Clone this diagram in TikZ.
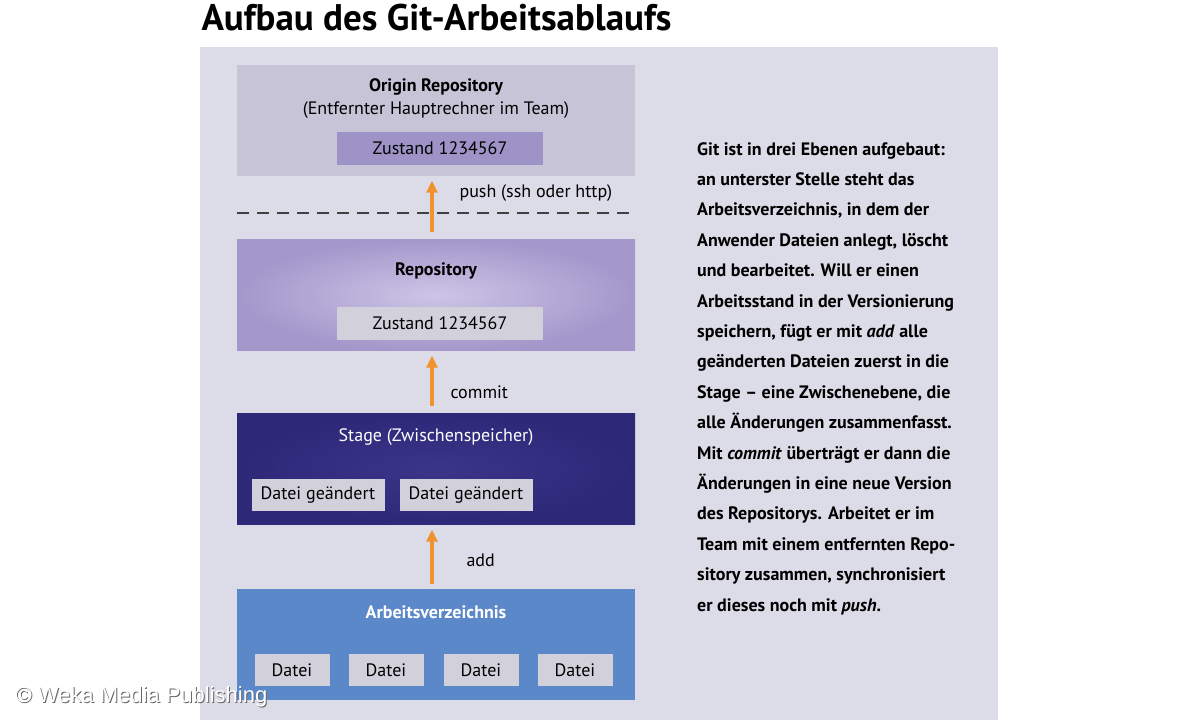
\documentclass[tikz,border=0pt]{standalone}
\usepackage{fontspec}
\setmainfont{PT Sans}
\usetikzlibrary{arrows.meta, positioning}
\definecolor{panelbg}{HTML}{DCDBE8}
\definecolor{origincol}{HTML}{C7C4D8}
\definecolor{zustandcol}{HTML}{9D93C6}
\definecolor{repocol}{HTML}{A497CB}
\definecolor{repolight}{HTML}{CCC5E6}
\definecolor{stagecol}{HTML}{2D2878}
\definecolor{stagelight}{HTML}{3A3588}
\definecolor{workcol}{HTML}{5B88C8}
\definecolor{filecol}{HTML}{D2D1DB}
\definecolor{arrowcol}{HTML}{F0922E}
\begin{document}
\begin{tikzpicture}[x=1pt, y=-1pt,
  level/.style={rectangle, minimum width=398pt, minimum height=111pt, inner sep=0pt},
  zustand/.style={rectangle, minimum width=206pt, minimum height=33pt, inner sep=0pt, font=\fontsize{18}{20}\selectfont},
  file/.style={rectangle, fill=filecol, minimum width=133pt, minimum height=32pt, inner sep=0pt, font=\fontsize{18}{20}\selectfont},
  smallfile/.style={file, minimum width=75pt},
  heading/.style={font=\fontsize{18}{20}\selectfont\bfseries},
  lbl/.style={font=\fontsize{18}{20}\selectfont, anchor=west},
  arrow/.style={-{Triangle[length=12pt, width=11pt]}, line width=3.5pt, arrowcol},
]
\useasboundingbox (0,0) rectangle (1200,720);
\fill[white] (0,0) rectangle (1200,720);

% Title and panel
\node[anchor=west, font=\fontsize{37}{40}\selectfont\bfseries] (title) at (198,18) {Aufbau des Git-Arbeitsablaufs};
\fill[panelbg] (200,47) rectangle (998,720);

% Levels
\node[level, fill=origincol] (origin) at (436,120) {};
\node[heading] (originname) at (436,87) {Origin Repository};
\node[font=\fontsize{18}{20}\selectfont] (originsub) at (436,110) {(Entfernter Hauptrechner im Team)};
\node[zustand, fill=zustandcol] (originstate) at (440,148) {Zustand 1234567};

\node[level, inner color=repolight, outer color=repocol] (repo) at (436,295) {};
\node[heading] (reponame) at (436,271) {Repository};
\node[zustand, fill=filecol] (repostate) at (440,323) {Zustand 1234567};

\node[level, inner color=stagelight, outer color=stagecol] (stage) at (436,469) {};
\node[text=white, font=\fontsize{18}{20}\selectfont] (stagename) at (436,437) {Stage (Zwischenspeicher)};
\node[file] (sfile1) at (318,495) {Datei geändert};
\node[file] (sfile2) at (466,495) {Datei geändert};

\node[level, fill=workcol] (work) at (436,644) {};
\node[heading, text=white] (workname) at (436,612) {Arbeitsverzeichnis};
\foreach \i/\x in {1/292, 2/386, 3/481, 4/575}
  \node[smallfile] (wfile\i) at (\x,670) {Datei};

% Dashed separator
\coordinate (dashl) at (237,213);
\coordinate (dashr) at (635,213);
\draw[line width=1.6pt, dash pattern=on 12pt off 8pt, black!75] (dashl) -- (dashr);

% Arrows
\draw[arrow] ([xshift=-4pt, yshift=7pt]repo.north) -- ([xshift=-4pt, yshift=-5pt]origin.south);
\draw[arrow] ([xshift=-4pt, yshift=7pt]stage.north) -- ([xshift=-4pt, yshift=-5pt]repo.south);
\draw[arrow] ([xshift=-4pt, yshift=4pt]work.north) -- ([xshift=-4pt, yshift=-5pt]stage.south);
\node[lbl] (pushlbl) at (456,193) {push (ssh oder http)};
\node[lbl] (commitlbl) at (447,392) {commit};
\node[lbl] (addlbl) at (463,560) {add};

% Description
\node[anchor=north west, align=left, inner sep=0pt, font=\fontsize{18}{30.4}\selectfont\bfseries] (desc) at (697,142) {Git ist in drei Ebenen aufgebaut:\\
an unterster Stelle steht das\\
Arbeitsverzeichnis, in dem der\\
Anwender Dateien anlegt, löscht\\
und bearbeitet. Will er einen\\
Arbeitsstand in der Versionierung\\
speichern, fügt er mit \textit{add} alle\\
geänderten Dateien zuerst in die\\
Stage – eine Zwischenebene, die\\
alle Änderungen zusammenfasst.\\
Mit \textit{commit} überträgt er dann die\\
Änderungen in eine neue Version\\
des Repositorys. Arbeitet er im\\
Team mit einem entfernten Repo-\\
sitory zusammen, synchronisiert\\
er dieses noch mit \textit{push}.};

% Copyright
\node[anchor=west, text=black!60, font=\fontsize{22}{24}\selectfont\fontspec{Liberation Sans}] at (13,698) {© Weka Media Publishing};
\node[anchor=west, text=white, font=\fontsize{22}{24}\selectfont\fontspec{Liberation Sans}] (copy) at (12,697) {© Weka Media Publishing};
\end{tikzpicture}
\end{document}
